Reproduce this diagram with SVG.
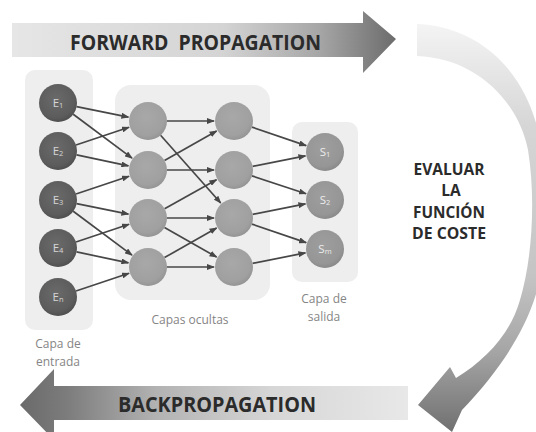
<svg xmlns="http://www.w3.org/2000/svg" width="536" height="432" viewBox="0 0 536 432">
  <defs>
    <linearGradient id="gFwd" gradientUnits="userSpaceOnUse" x1="12" y1="0" x2="396" y2="0">
      <stop offset="0" stop-color="#e6e6e6"/>
      <stop offset="0.55" stop-color="#d4d4d4"/>
      <stop offset="0.8" stop-color="#a6a6a6"/>
      <stop offset="1" stop-color="#6c6c6c"/>
    </linearGradient>
    <linearGradient id="gBack" gradientUnits="userSpaceOnUse" x1="20" y1="0" x2="408" y2="0">
      <stop offset="0" stop-color="#6a6a6a"/>
      <stop offset="0.12" stop-color="#7c7c7c"/>
      <stop offset="0.35" stop-color="#b2b2b2"/>
      <stop offset="0.65" stop-color="#d6d6d6"/>
      <stop offset="1" stop-color="#e8e8e8"/>
    </linearGradient>
    <linearGradient id="gCurve" gradientUnits="userSpaceOnUse" x1="0" y1="24" x2="0" y2="432">
      <stop offset="0" stop-color="#f4f4f4"/>
      <stop offset="0.25" stop-color="#d6d6d6"/>
      <stop offset="0.62" stop-color="#c4c4c4"/>
      <stop offset="0.8" stop-color="#a6a6a6"/>
      <stop offset="1" stop-color="#707070"/>
    </linearGradient>
    <radialGradient id="gIn" cx="0.45" cy="0.4" r="0.6">
      <stop offset="0" stop-color="#6a6a6a"/>
      <stop offset="0.8" stop-color="#5c5c5c"/>
      <stop offset="1" stop-color="#505050"/>
    </radialGradient>
    <radialGradient id="gHid" cx="0.45" cy="0.4" r="0.6">
      <stop offset="0" stop-color="#a8a8a8"/>
      <stop offset="0.8" stop-color="#a0a0a0"/>
      <stop offset="1" stop-color="#959595"/>
    </radialGradient>
    <radialGradient id="gOut" cx="0.45" cy="0.4" r="0.6">
      <stop offset="0" stop-color="#9e9e9e"/>
      <stop offset="0.8" stop-color="#969696"/>
      <stop offset="1" stop-color="#8a8a8a"/>
    </radialGradient>
    <marker id="tip" markerUnits="userSpaceOnUse" markerWidth="8" markerHeight="6" refX="7" refY="3" orient="auto">
      <path d="M0,0 L8,3 L0,6 z" fill="#474747"/>
    </marker>
    <style>
      .panel { fill: #eeeeee; }
      .in { fill: url(#gIn); }
      .hid { fill: url(#gHid); }
      .out { fill: url(#gOut); }
      .lbl { font-family: "Open Sans", "Liberation Sans", sans-serif; font-size: 11.5px; text-anchor: middle; }
      .in-t { fill: #d6d6d6; }
      .out-t { fill: #ececec; }
      .sub { font-size: 7.5px; }
      .cap { font-family: "Open Sans", "Liberation Sans", sans-serif; font-size: 12px; fill: #858585; text-anchor: middle; }
      .big { font-family: "Open Sans", "Liberation Sans", sans-serif; font-size: 21px; font-weight: 700; fill: #2b2b2b; white-space: pre; }
      .eval { font-family: "Open Sans", "Liberation Sans", sans-serif; font-size: 15.5px; font-weight: 700; fill: #2b2b2b; text-anchor: middle; }
      #links line { stroke: #474747; stroke-width: 1.7; marker-end: url(#tip); }
    </style>
  </defs>

  <rect width="536" height="432" fill="#ffffff"/>

  <!-- forward propagation arrow -->
  <g id="forward">
    <polygon points="12,23 363,23 363,11 396,39 363,73 363,57 12,57" fill="url(#gFwd)"/>
    <text class="big" x="70" y="50" textLength="251" lengthAdjust="spacingAndGlyphs">FORWARD  PROPAGATION</text>
  </g>

  <!-- curved arrow from output back to the bottom -->
  <g id="loop">
    <path d="M417,24 C455,25 500,45 525,95 C548,140 552,210 542,270 C532,325 500,370 462,410 L452,432 L418,405 L450,367 L456,378 C485,360 510,335 520,300 C532,260 536,200 528,150 C518,100 475,58 417,56 Z" fill="url(#gCurve)"/>
  </g>

  <!-- backpropagation arrow -->
  <g id="backward">
    <polygon points="20,405 54,369 54,386 408,386 408,420 54,420 54,440" fill="url(#gBack)"/>
    <text class="big" x="118" y="412" textLength="198" lengthAdjust="spacingAndGlyphs">BACKPROPAGATION</text>
  </g>

  <!-- layer panels -->
  <g id="layer-input">
    <rect class="panel" x="25" y="70" width="68" height="260" rx="10"/>
    <text class="cap" x="58" y="348">Capa de</text>
    <text class="cap" x="58" y="366">entrada</text>
  </g>
  <g id="layer-hidden">
    <rect class="panel" x="115" y="85" width="155" height="215" rx="16"/>
    <text class="cap" x="190" y="324">Capas ocultas</text>
  </g>
  <g id="layer-output">
    <rect class="panel" x="292" y="122" width="66" height="160" rx="10"/>
    <text class="cap" x="324" y="303">Capa de</text>
    <text class="cap" x="324" y="321">salida</text>
  </g>

  <!-- connectors -->
  <g id="links">
    <line x1="76.6" y1="106.7" x2="128.4" y2="117.1"/>
    <line x1="73.2" y1="114.3" x2="132.0" y2="158.1"/>
    <line x1="76.0" y1="145.0" x2="129.0" y2="127.3"/>
    <line x1="76.6" y1="154.9" x2="128.4" y2="165.9"/>
    <line x1="76.0" y1="194.0" x2="129.0" y2="176.3"/>
    <line x1="76.6" y1="203.7" x2="128.4" y2="214.1"/>
    <line x1="73.2" y1="211.3" x2="132.0" y2="255.1"/>
    <line x1="76.0" y1="242.0" x2="129.0" y2="224.3"/>
    <line x1="76.6" y1="251.9" x2="128.4" y2="262.9"/>
    <line x1="76.0" y1="291.0" x2="129.0" y2="273.3"/>

    <line x1="167" y1="121" x2="214" y2="121"/>
    <line x1="160.6" y1="135.2" x2="220.7" y2="203.0"/>
    <line x1="164.5" y1="160.6" x2="216.6" y2="130.9"/>
    <line x1="167" y1="170" x2="214" y2="170"/>
    <line x1="164.6" y1="208.7" x2="216.5" y2="179.7"/>
    <line x1="167" y1="218" x2="214" y2="218"/>
    <line x1="164.5" y1="227.4" x2="216.6" y2="257.1"/>
    <line x1="164.5" y1="257.6" x2="216.6" y2="227.9"/>
    <line x1="167" y1="267" x2="214" y2="267"/>

    <line x1="252.0" y1="127.1" x2="306.1" y2="145.6"/>
    <line x1="252.6" y1="166.3" x2="305.4" y2="155.9"/>
    <line x1="252.0" y1="175.9" x2="306.0" y2="193.7"/>
    <line x1="252.6" y1="214.3" x2="305.4" y2="203.9"/>
    <line x1="252.0" y1="224.1" x2="306.1" y2="242.6"/>
    <line x1="252.6" y1="263.3" x2="305.4" y2="252.9"/>
  </g>

  <!-- input nodes -->
  <g id="E1"><circle class="in" cx="58" cy="103" r="19"/><text class="lbl in-t" x="58" y="107">E<tspan class="sub" dy="1">1</tspan></text></g>
  <g id="E2"><circle class="in" cx="58" cy="151" r="19"/><text class="lbl in-t" x="58" y="155">E<tspan class="sub" dy="1">2</tspan></text></g>
  <g id="E3"><circle class="in" cx="58" cy="200" r="19"/><text class="lbl in-t" x="58" y="204">E<tspan class="sub" dy="1">3</tspan></text></g>
  <g id="E4"><circle class="in" cx="58" cy="248" r="19"/><text class="lbl in-t" x="58" y="252">E<tspan class="sub" dy="1">4</tspan></text></g>
  <g id="En"><circle class="in" cx="58" cy="297" r="19"/><text class="lbl in-t" x="58" y="301">E<tspan class="sub" dy="1">n</tspan></text></g>

  <!-- hidden layer 1 -->
  <g id="H1a"><circle class="hid" cx="148" cy="121" r="19"/></g>
  <g id="H1b"><circle class="hid" cx="148" cy="170" r="19"/></g>
  <g id="H1c"><circle class="hid" cx="148" cy="218" r="19"/></g>
  <g id="H1d"><circle class="hid" cx="148" cy="267" r="19"/></g>

  <!-- hidden layer 2 -->
  <g id="H2a"><circle class="hid" cx="234" cy="121" r="19"/></g>
  <g id="H2b"><circle class="hid" cx="234" cy="170" r="19"/></g>
  <g id="H2c"><circle class="hid" cx="234" cy="218" r="19"/></g>
  <g id="H2d"><circle class="hid" cx="234" cy="267" r="19"/></g>

  <!-- output nodes -->
  <g id="S1"><circle class="out" cx="325" cy="152" r="19"/><text class="lbl out-t" x="325" y="156">S<tspan class="sub" dy="1">1</tspan></text></g>
  <g id="S2"><circle class="out" cx="325" cy="200" r="19"/><text class="lbl out-t" x="325" y="204">S<tspan class="sub" dy="1">2</tspan></text></g>
  <g id="Sm"><circle class="out" cx="325" cy="249" r="19"/><text class="lbl out-t" x="325" y="253">S<tspan class="sub" dy="1">m</tspan></text></g>

  <!-- cost evaluation label -->
  <g id="cost">
    <text class="eval" x="449" y="175" textLength="71" lengthAdjust="spacingAndGlyphs">EVALUAR</text>
    <text class="eval" x="451" y="196">LA</text>
    <text class="eval" x="449" y="217.5" textLength="72" lengthAdjust="spacingAndGlyphs">FUNCIÓN</text>
    <text class="eval" x="449" y="239" textLength="74" lengthAdjust="spacingAndGlyphs">DE COSTE</text>
  </g>
</svg>
